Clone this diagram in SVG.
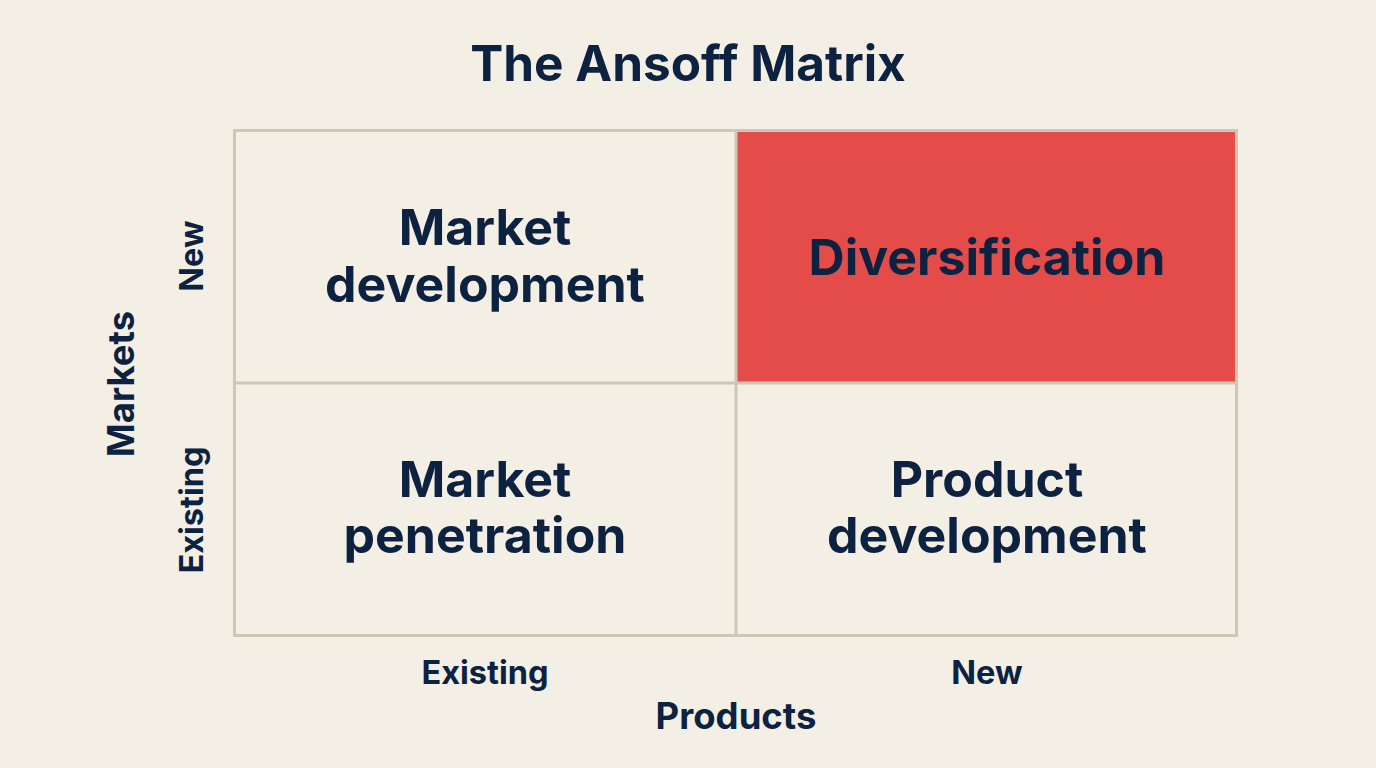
<svg xmlns="http://www.w3.org/2000/svg" width="1376" height="768" viewBox="0 0 1376 768">
<style>
text{font-family:Inter,"Liberation Sans",Arial,sans-serif;font-weight:700;fill:#0d2240;text-anchor:middle}
.cell{font-size:50px}
.axis{font-size:32.5px}
.axt{font-size:36.5px}
.grid{fill:none;stroke:#cfc6b6;stroke-width:3}
</style>
<rect width="1376" height="768" fill="#f3efe5"/>
<text x="688" y="81" style="font-size:49.5px">The Ansoff Matrix</text>
<g id="cell-market-development">
<text class="cell" x="485" y="245">Market</text>
<text class="cell" x="485" y="302">development</text>
</g>
<g id="cell-diversification">
<rect x="737" y="131" width="500" height="252" fill="#e44c4a"/>
<text class="cell" x="987" y="275">Diversification</text>
</g>
<g id="cell-market-penetration">
<text class="cell" x="485" y="497">Market</text>
<text class="cell" x="485" y="553">penetration</text>
</g>
<g id="cell-product-development">
<text class="cell" x="987" y="497">Product</text>
<text class="cell" x="987" y="553">development</text>
</g>
<g id="grid">
<rect class="grid" x="234.5" y="130.5" width="1002" height="505"/>
<line class="grid" x1="736" y1="130" x2="736" y2="636"/>
<line class="grid" x1="234" y1="383" x2="1237" y2="383"/>
</g>
<g id="axis-labels">
<text class="axis" x="485" y="684">Existing</text>
<text class="axis" x="987" y="684">New</text>
<text class="axt" x="736" y="729">Products</text>
<text class="axt" transform="translate(134 384) rotate(-90)">Markets</text>
<text class="axis" transform="translate(203 256) rotate(-90)">New</text>
<text class="axis" transform="translate(203 510) rotate(-90)">Existing</text>
</g>
</svg>
